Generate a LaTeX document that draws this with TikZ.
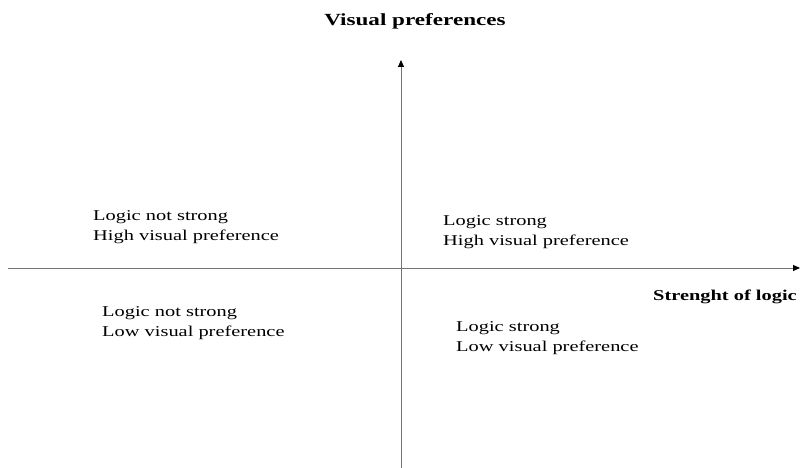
\documentclass[tikz,border=0pt]{standalone}
\usepackage{fontspec}
\setmainfont{Liberation Serif}
\newfontfamily\quadfont[FakeStretch=1.36]{Liberation Serif}
\usetikzlibrary{arrows.meta}
\tikzstyle{axis} = [draw=black!55, line width=0.9pt, -{Triangle[length=7pt, width=6pt, color=black]}]
\tikzstyle{quadrant} = [anchor=north west, inner sep=0pt, align=left, font=\quadfont\fontsize{15}{19.5}\selectfont]
\tikzstyle{axislabel} = [inner sep=0pt, font=\quadfont\bfseries\fontsize{15}{18}\selectfont]

\begin{document}
\begin{tikzpicture}[x=1pt, y=1pt]
\useasboundingbox (0,0) rectangle (800,468);

% Axes
\coordinate (xstart) at (8,200);
\coordinate (xend) at (800,200);
\coordinate (ystart) at (401,0);
\coordinate (yend) at (401,408);
\draw [axis] (xstart) -- (xend);
\draw [axis] (ystart) -- (yend);

% Labels
\node (ytitle) [axislabel, anchor=base, font=\quadfont\bfseries\fontsize{17}{20}\selectfont] at (415,442) {Visual preferences};
\node (xtitle) [axislabel, anchor=base west] at (653,167.3) {Strenght of logic};

% Quadrants
\node (topleft) [quadrant] at (93,257.5) {Logic not strong\\High visual preference};
\node (topright) [quadrant] at (443,252.2) {Logic strong\\High visual preference};
\node (bottomleft) [quadrant] at (102,161.5) {Logic not strong\\Low visual preference};
\node (bottomright) [quadrant] at (456,146.5) {Logic strong\\Low visual preference};

\end{tikzpicture}
\end{document}
